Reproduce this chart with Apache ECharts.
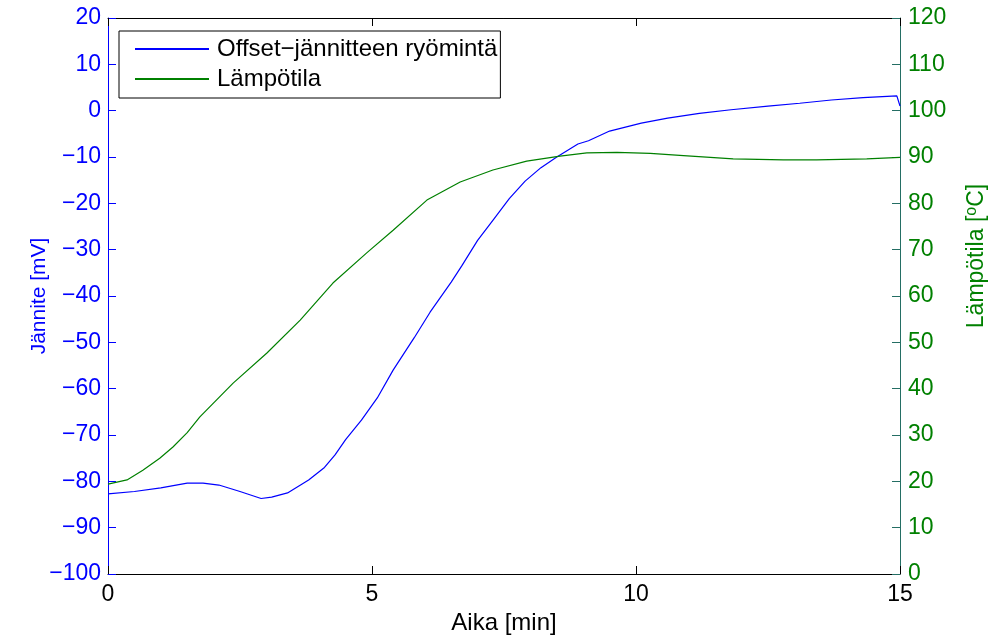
<!DOCTYPE html>
<html>
<head>
<meta charset="utf-8">
<script src="https://cdn.jsdelivr.net/npm/echarts@6/dist/echarts.min.js"></script>
<style>
  html, body { margin: 0; padding: 0; background: #fff; }
  #chart { width: 988px; height: 640px; }
</style>
</head>
<body>
<div id="chart"></div>
<script>
// offset voltage drift [mV] vs time [min]
const voltTime = [0, 0.5, 1.0, 1.5, 1.8, 2.1, 2.5, 2.9, 3.1, 3.4, 3.8, 4.1, 4.3, 4.5, 4.8, 5.1, 5.4, 5.8, 6.1, 6.5, 6.7, 7.0, 7.3, 7.6, 7.9, 8.2, 8.5, 8.9, 9.1, 9.5, 10.1, 10.6, 11.2, 11.8, 12.5, 13.1, 13.7, 14.3, 14.94, 15];
const voltValues = [-82.7, -82.2, -81.4, -80.4, -80.4, -80.8, -82.2, -83.7, -83.4, -82.5, -79.7, -77, -74.3, -71, -66.8, -62, -56, -49, -43.5, -37, -33.5, -28, -23.5, -19, -15.2, -12.3, -10, -7.2, -6.5, -4.4, -2.7, -1.6, -0.6, 0.2, 1.0, 1.6, 2.3, 2.8, 3.2, 1.0];

// temperature [°C] vs time [min]
const tempTime = [0, 0.36, 0.66, 0.98, 1.23, 1.5, 1.74, 2.37, 3.01, 3.64, 4.26, 4.9, 5.4, 6.04, 6.67, 7.29, 7.93, 8.56, 9.07, 9.64, 10.27, 10.9, 11.84, 12.79, 13.42, 14.37, 15];
const tempValues = [19.4, 20.3, 22.4, 25, 27.4, 30.5, 33.9, 41.2, 47.7, 54.8, 62.8, 69.3, 74.2, 80.7, 84.6, 87.2, 89.1, 90.2, 90.9, 91.0, 90.8, 90.3, 89.6, 89.4, 89.4, 89.6, 89.9];

const seriesNames = ['Offset\u2212jännitteen ryömintä', 'Lämpötila'];

const BLUE = '#0000ff';
const GREEN = '#008000';
const TEAL = '#246e64';
const FONT = '"Liberation Sans", Arial, sans-serif';

const minus = v => String(v).replace('-', '\u2212');

const chart = echarts.init(document.getElementById('chart'));

chart.setOption({
  animation: false,
  textStyle: { fontFamily: FONT },
  grid: { left: 108, right: 88, top: 18, bottom: 66, outerBoundsMode: 'none', containLabel: false },
  legend: {
    orient: 'vertical',
    left: 119,
    top: 31,
    padding: [6, 3, 7, 15],
    itemGap: 6,
    itemWidth: 74,
    itemHeight: 14,
    borderColor: '#000',
    borderWidth: 1,
    backgroundColor: '#fff',
    itemStyle: { opacity: 0 },
    textStyle: { fontSize: 24, color: '#000', fontFamily: FONT, padding: [0, 0, 0, 3] },
    data: seriesNames
  },
  xAxis: [
    {
      type: 'value', min: 0, max: 15, interval: 5,
      name: 'Aika [min]', nameLocation: 'middle', nameGap: 37, nameMoveOverlap: false,
      nameTextStyle: { fontSize: 24, color: '#000' },
      axisLine: { onZero: false, lineStyle: { color: '#000', width: 1 } },
      axisTick: { inside: true, length: 8, lineStyle: { color: '#000' } },
      axisLabel: { fontSize: 23, color: '#000', margin: 9 },
      splitLine: { show: false }
    },
    {
      type: 'value', min: 0, max: 15, interval: 5, position: 'top',
      axisLine: { onZero: false, lineStyle: { color: '#000', width: 1 } },
      axisTick: { inside: true, length: 8, lineStyle: { color: '#000' } },
      axisLabel: { show: false },
      splitLine: { show: false }
    }
  ],
  yAxis: [
    {
      type: 'value', min: -100, max: 20, interval: 10, position: 'left',
      name: 'Jännite [mV]', nameLocation: 'middle', nameGap: 58, nameRotate: 90, nameMoveOverlap: false,
      nameTextStyle: { fontSize: 21, color: BLUE },
      axisLine: { show: true, onZero: false, lineStyle: { color: BLUE, width: 1 } },
      axisTick: { show: true, inside: true, length: 8, lineStyle: { color: BLUE } },
      axisLabel: { fontSize: 23, color: BLUE, margin: 7, formatter: minus },
      splitLine: { show: false }
    },
    {
      type: 'value', min: 0, max: 120, interval: 10, position: 'right',
      name: 'Lämpötila [{sup|o}C]', nameLocation: 'middle', nameGap: 64, nameRotate: 90, nameMoveOverlap: false,
      nameTextStyle: {
        fontSize: 23, color: GREEN, padding: [0, 0, 0, 80],
        rich: { sup: { fontSize: 16, color: GREEN, verticalAlign: 'top', padding: [0, 0, 10, 0] } }
      },
      axisLine: { show: true, onZero: false, lineStyle: { color: TEAL, width: 1 } },
      axisTick: { show: true, inside: true, length: 8, lineStyle: { color: TEAL } },
      axisLabel: { fontSize: 23, color: GREEN, margin: 8 },
      splitLine: { show: false }
    }
  ],
  series: [
    {
      name: seriesNames[0],
      type: 'line',
      xAxisIndex: 0, yAxisIndex: 0,
      symbol: 'none',
      lineStyle: { color: BLUE, width: 1.2 },
      itemStyle: { color: BLUE },
      data: voltTime.map((t, i) => [t, voltValues[i]])
    },
    {
      name: seriesNames[1],
      type: 'line',
      xAxisIndex: 0, yAxisIndex: 1,
      symbol: 'none',
      lineStyle: { color: GREEN, width: 1.2 },
      itemStyle: { color: GREEN },
      data: tempTime.map((t, i) => [t, tempValues[i]])
    }
  ]
});
</script>
</body>
</html>
